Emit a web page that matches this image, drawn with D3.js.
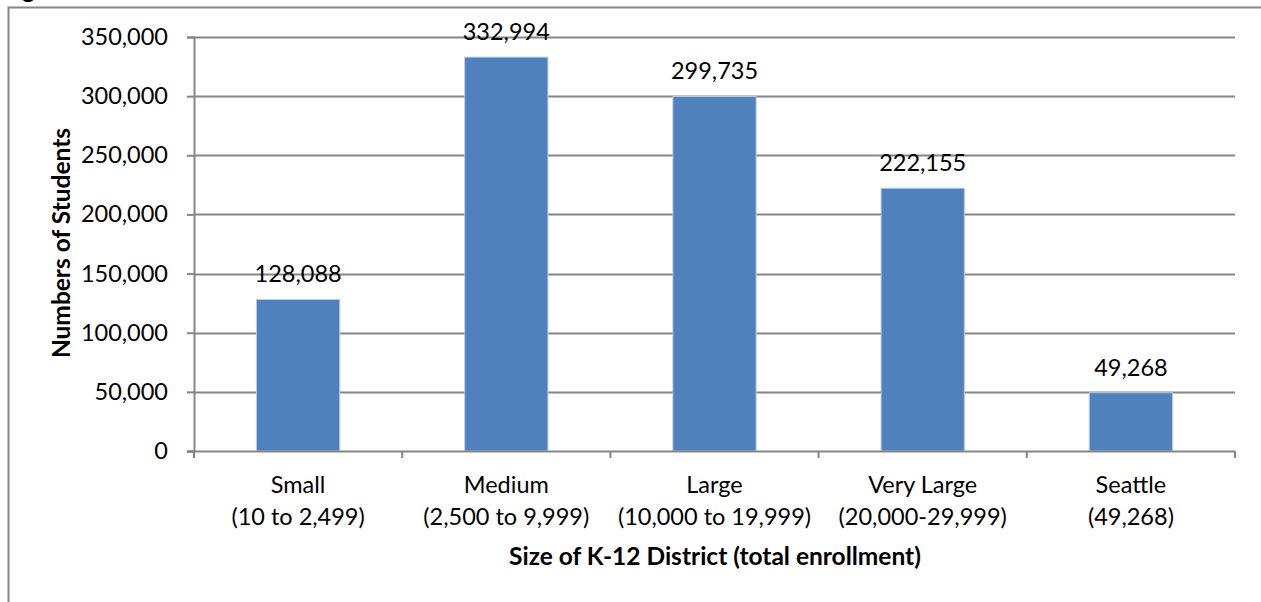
<!DOCTYPE html>
<html>
<head>
<meta charset="utf-8">
<script src="https://cdn.jsdelivr.net/npm/d3@7"></script>
<style>
    body { margin: 0; background: #fff; }
    svg { display: block; font-family: Lato, "Open Sans", sans-serif; }
</style>
</head>
<body>
<div id="chart"></div>
<script>
// chart values
var categories = ["Small", "Medium", "Large", "Very Large", "Seattle"];
var ranges = ["(10 to 2,499)", "(2,500 to 9,999)", "(10,000 to 19,999)", "(20,000-29,999)", "(49,268)"];
var students = [128088, 332994, 299735, 222155, 49268];
var yTicks = [0, 50000, 100000, 150000, 200000, 250000, 300000, 350000];

function drawChart() {
    var width = 1261, height = 602;
    var left = 194, right = 1235, top = 37, bottom = 451;
    var fs = 23.5;

    var svg = d3.select("#chart")
        .append("svg")
        .attr("width", width)
        .attr("height", height);

    // outer chart frame (partly off the page)
    svg.append("rect")
        .attr("x", 8.5)
        .attr("y", 7.5)
        .attr("width", 1300)
        .attr("height", 700)
        .attr("fill", "none")
        .attr("stroke", "#868686")
        .attr("stroke-width", 2);

    // clipped title above the frame, only the descender shows
    svg.append("text")
        .attr("x", 22)
        .attr("y", -2)
        .attr("font-size", 24)
        .attr("font-weight", "bold")
        .text("g");

    var x = d3.scaleBand()
        .domain(categories)
        .range([left, right])
        .paddingInner(0.6)
        .paddingOuter(0.3);

    var y = d3.scaleLinear()
        .domain([0, 350000])
        .range([bottom, top]);

    // gridlines
    svg.append("g")
        .selectAll("line")
        .data(yTicks.slice(1))
        .enter()
        .append("line")
        .attr("x1", left)
        .attr("x2", right)
        .attr("y1", function (d) { return Math.round(y(d)) + 0.5; })
        .attr("y2", function (d) { return Math.round(y(d)) + 0.5; })
        .attr("stroke", "#868686")
        .attr("stroke-width", 2);

    // y axis
    var yAxis = svg.append("g")
        .attr("transform", "translate(" + left + ",0)")
        .call(d3.axisLeft(y).tickValues(yTicks).tickSize(7).tickPadding(19)
            .tickFormat(d3.format(",")));
    yAxis.select(".domain").attr("stroke", "#868686").attr("stroke-width", 2);
    yAxis.selectAll(".tick line").attr("stroke", "#868686").attr("stroke-width", 2);
    yAxis.selectAll(".tick text").attr("font-size", fs).attr("fill", "#000")
        .attr("font-family", "Lato");

    // bars
    svg.append("g")
        .selectAll("rect")
        .data(students)
        .enter()
        .append("rect")
        .attr("x", function (d, i) { return x(categories[i]); })
        .attr("y", function (d) { return y(d); })
        .attr("width", x.bandwidth())
        .attr("height", function (d) { return bottom - y(d); })
        .attr("fill", "#4F81BD")
        .attr("stroke", "#B9CDE5")
        .attr("stroke-width", 1);

    // value labels
    svg.append("g")
        .selectAll("text")
        .data(students)
        .enter()
        .append("text")
        .attr("x", function (d, i) { return x(categories[i]) + x.bandwidth() / 2; })
        .attr("y", function (d) { return y(d) - 17; })
        .attr("text-anchor", "middle")
        .attr("font-size", fs)
        .text(function (d) { return d3.format(",")(d); });

    // x axis
    var step = (right - left) / categories.length;
    var xAxis = svg.append("g");
    xAxis.append("line")
        .attr("x1", left - 7)
        .attr("x2", right)
        .attr("y1", bottom + 0.5)
        .attr("y2", bottom + 0.5)
        .attr("stroke", "#868686")
        .attr("stroke-width", 2);
    xAxis.selectAll(".xtick")
        .data(d3.range(categories.length + 1))
        .enter()
        .append("line")
        .attr("x1", function (d) { return left + d * step; })
        .attr("x2", function (d) { return left + d * step; })
        .attr("y1", bottom)
        .attr("y2", bottom + 7)
        .attr("stroke", "#868686")
        .attr("stroke-width", 2);

    var lab = xAxis.selectAll(".xlab")
        .data(categories)
        .enter()
        .append("text")
        .attr("text-anchor", "middle")
        .attr("font-size", fs);
    lab.append("tspan")
        .attr("x", function (d) { return x(d) + x.bandwidth() / 2; })
        .attr("y", 493)
        .text(function (d) { return d; });
    lab.append("tspan")
        .attr("x", function (d) { return x(d) + x.bandwidth() / 2; })
        .attr("y", 525)
        .text(function (d, i) { return ranges[i]; });

    // axis titles
    svg.append("text")
        .attr("transform", "translate(70,243) rotate(-90)")
        .attr("text-anchor", "middle")
        .attr("font-size", 24.5)
        .attr("font-weight", "bold")
        .text("Numbers of Students");

    svg.append("text")
        .attr("x", 715)
        .attr("y", 565)
        .attr("text-anchor", "middle")
        .attr("font-size", 24.5)
        .attr("font-weight", "bold")
        .text("Size of K-12 District (total enrollment)");
}

window.addEventListener('load', function () {
    drawChart();
});
</script>
</body>
</html>
